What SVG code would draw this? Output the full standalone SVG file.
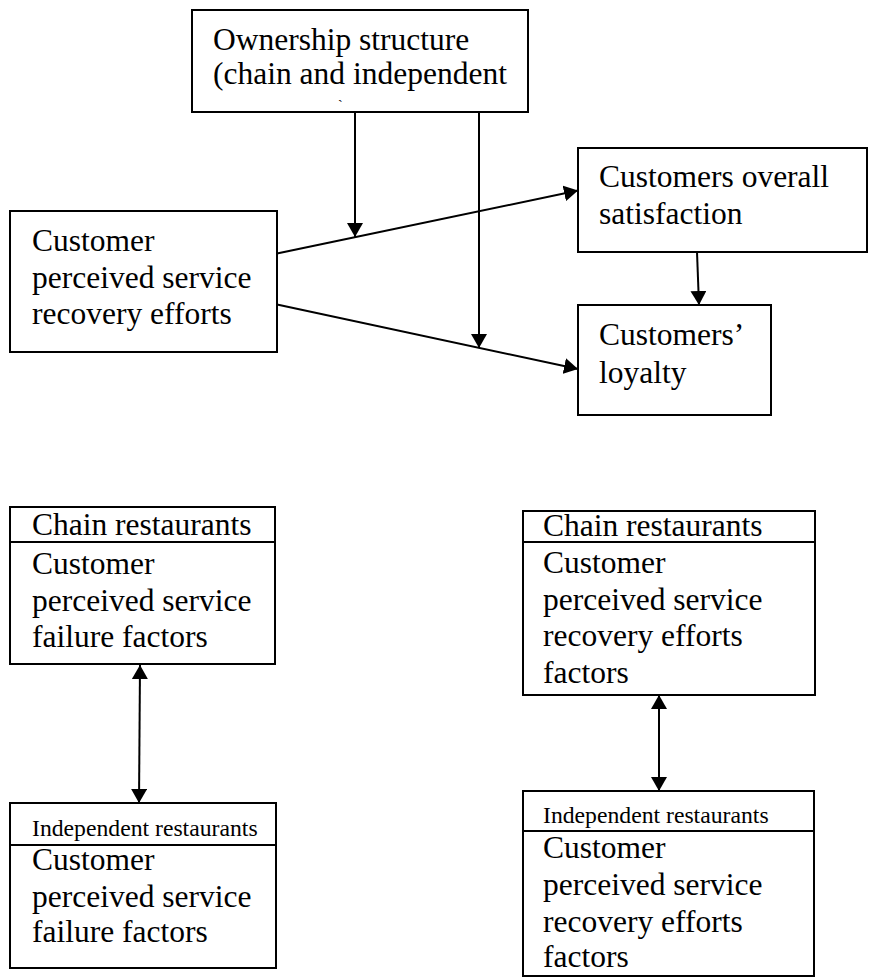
<svg xmlns="http://www.w3.org/2000/svg" width="869" height="977" viewBox="0 0 869 977">
<style>
.box{fill:#fff;stroke:#000;stroke-width:2}
.div{stroke:#000;stroke-width:2}
.t{font-family:"Liberation Serif","Times New Roman",Times,serif;font-size:31.5px;fill:#000}
.s{font-family:"Liberation Serif","Times New Roman",Times,serif;font-size:23.7px;fill:#000}
.c{stroke:#000;stroke-width:2;fill:none}
</style>
<defs>
<marker id="ah" markerUnits="userSpaceOnUse" markerWidth="14" markerHeight="16" viewBox="0 0 14 16" refX="14" refY="8" orient="auto-start-reverse">
<path d="M0,0 L14,8 L0,16 z" fill="#000"/>
</marker>
</defs>
<rect width="869" height="977" fill="#fff"/>
<g id="ownership">
<rect class="box" x="192" y="10" width="336" height="102"/>
<text class="t" x="213" y="50">Ownership structure</text>
<text class="t" x="213" y="84">(chain and independent</text>
<text x="338" y="110" style="font-family:'Liberation Serif',serif;font-size:14px">`</text>
</g>
<g id="recovery">
<rect class="box" x="10" y="211" width="267" height="141"/>
<text class="t" x="32" y="251">Customer</text>
<text class="t" x="32" y="288">perceived service</text>
<text class="t" x="32" y="324">recovery efforts</text>
</g>
<g id="satisfaction">
<rect class="box" x="578" y="148" width="289" height="104"/>
<text class="t" x="599" y="187">Customers overall</text>
<text class="t" x="599" y="224">satisfaction</text>
</g>
<g id="loyalty">
<rect class="box" x="578" y="305" width="193" height="110"/>
<text class="t" x="599" y="345">Customers’</text>
<text class="t" x="599" y="383">loyalty</text>
</g>
<g id="chain-failure">
<rect class="box" x="10" y="507" width="265" height="157"/>
<line class="div" x1="10" y1="542" x2="275" y2="542"/>
<text class="t" x="32" y="535">Chain restaurants</text>
<text class="t" x="32" y="574">Customer</text>
<text class="t" x="32" y="611">perceived service</text>
<text class="t" x="32" y="647">failure factors</text>
</g>
<g id="independent-failure">
<rect class="box" x="10" y="803" width="266" height="165"/>
<line class="div" x1="10" y1="845" x2="276" y2="845"/>
<text class="s" x="32" y="836">Independent restaurants</text>
<text class="t" x="32" y="870">Customer</text>
<text class="t" x="32" y="907">perceived service</text>
<text class="t" x="32" y="942">failure factors</text>
</g>
<g id="chain-recovery">
<rect class="box" x="523" y="511" width="292" height="184"/>
<line class="div" x1="523" y1="542" x2="815" y2="542"/>
<text class="t" x="543" y="536">Chain restaurants</text>
<text class="t" x="543" y="573">Customer</text>
<text class="t" x="543" y="610">perceived service</text>
<text class="t" x="543" y="646">recovery efforts</text>
<text class="t" x="543" y="683">factors</text>
</g>
<g id="independent-recovery">
<rect class="box" x="523" y="791" width="291" height="185"/>
<line class="div" x1="523" y1="831" x2="814" y2="831"/>
<text class="s" x="543" y="823">Independent restaurants</text>
<text class="t" x="543" y="858">Customer</text>
<text class="t" x="543" y="895">perceived service</text>
<text class="t" x="543" y="932">recovery efforts</text>
<text class="t" x="543" y="967">factors</text>
</g>
<g id="connectors">
<line class="c" x1="355" y1="112" x2="355" y2="237" marker-end="url(#ah)"/>
<line class="c" x1="479" y1="112" x2="479" y2="348" marker-end="url(#ah)"/>
<line class="c" x1="277" y1="253.5" x2="578" y2="190.5" marker-end="url(#ah)"/>
<line class="c" x1="277" y1="304.5" x2="578" y2="369" marker-end="url(#ah)"/>
<line class="c" x1="697" y1="252" x2="699" y2="305" marker-end="url(#ah)"/>
<line class="c" x1="140" y1="665" x2="139" y2="803" marker-start="url(#ah)" marker-end="url(#ah)"/>
<line class="c" x1="659" y1="695" x2="659" y2="791" marker-start="url(#ah)" marker-end="url(#ah)"/>
</g>
</svg>
